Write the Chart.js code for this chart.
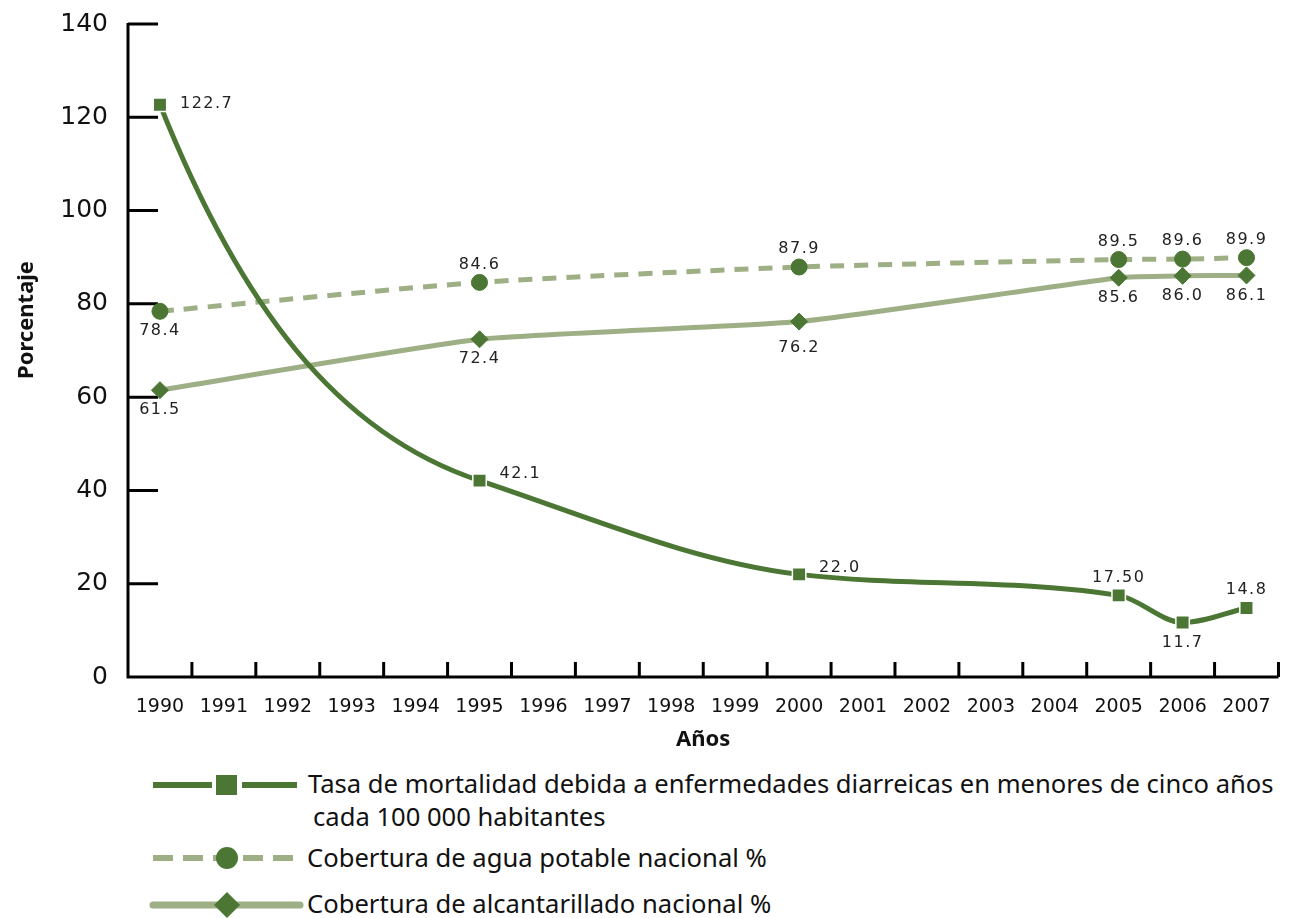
<!DOCTYPE html>
<html><head><meta charset="utf-8">
<script src="https://cdn.jsdelivr.net/npm/chart.js@4/dist/chart.umd.min.js"></script>
<style>
html,body{margin:0;padding:0;background:#fff;}
body{width:1290px;height:918px;overflow:hidden;position:relative;}
#wrap{position:absolute;left:0;top:-11px;width:1290px;height:771px;}
#legend{position:absolute;left:0;top:760px;}
</style></head>
<body>
<div id="wrap"><canvas id="c" width="1290" height="771"></canvas></div>
<svg id="legend" width="1290" height="158" xmlns="http://www.w3.org/2000/svg"></svg>
<script>
const years = ['1990','1991','1992','1993','1994','1995','1996','1997','1998','1999','2000','2001','2002','2003','2004','2005','2006','2007'];
const mortality = [122.7,null,null,null,null,42.1,null,null,null,null,22.0,null,null,null,null,17.5,11.7,14.8];
const water     = [78.4,null,null,null,null,84.6,null,null,null,null,87.9,null,null,null,null,89.5,89.6,89.9];
const sewer     = [61.5,null,null,null,null,72.4,null,null,null,null,76.2,null,null,null,null,85.6,86.0,86.1];
const yTicks = [0,20,40,60,80,100,120,140];
const seriesNames = [
  ['Tasa de mortalidad debida a enfermedades diarreicas en menores de cinco años', 'cada 100 000 habitantes'],
  ['Cobertura de agua potable nacional %'],
  ['Cobertura de alcantarillado nacional %']
];
const yTitle = 'Porcentaje';
const xTitle = 'Años';

// label placement (style only)
const mortalityDecimals = [1,1,1,1,1,1,1,1,1,1,1,1,1,1,1,2,1,1];
const mortalityPos = {0:'right',5:'rightUp',10:'rightUp',15:'above',16:'below',17:'above'};
const waterPos = {0:'below',5:'above',10:'above',15:'above',16:'above',17:'above'};
const sewerPos = {0:'below',5:'below',10:'belowFar',15:'below',16:'below',17:'below'};

const DARK = '#4b7634';
const LIGHT = '#9eaf86';

// curve shaping (style): pixel slopes of the smoothed mortality line at 1990 and 1995
const curveShape = {startSlope: 2.5, startLen: 0.25, midSlope: 0.33, midLen: 0.45};

const axisPlugin = {
  id: 'customAxes',
  beforeDatasetsDraw(chart) {
    const {ctx, chartArea: a, scales: {x, y}} = chart;
    // shape mortality curve control points
    const meta = chart.getDatasetMeta(0);
    meta.dataset.updateControlPoints(a, 'x');
    const pts = meta.data.filter(p => !p.skip);
    if (pts.length > 2) {
      const p0 = pts[0], p1 = pts[1], p2 = pts[2];
      const dx = p1.x - p0.x, dx2 = p2.x - p1.x;
      p0.cp2x = p0.x + curveShape.startLen * dx;
      p0.cp2y = p0.y + curveShape.startLen * dx * curveShape.startSlope;
      p1.cp1x = p1.x - curveShape.midLen * dx;
      p1.cp1y = p1.y - curveShape.midLen * dx * curveShape.midSlope;
      p1.cp2x = p1.x + dx2 / 3;
      p1.cp2y = p1.y + dx2 / 3 * curveShape.midSlope;
    }
    ctx.save();
    ctx.strokeStyle = '#000';
    ctx.lineWidth = 3;
    ctx.lineCap = 'butt';
    ctx.beginPath();
    ctx.moveTo(a.left, y.getPixelForValue(140) - 1);
    ctx.lineTo(a.left, a.bottom);
    ctx.lineTo(a.right, a.bottom);
    yTicks.forEach(v => {
      if (v === 0) return;
      const py = y.getPixelForValue(v);
      ctx.moveTo(a.left, py);
      ctx.lineTo(a.left + 30, py);
    });
    for (let i = 0; i < years.length; i++) {
      const px = x.getPixelForValue(i + 0.5);
      ctx.moveTo(px, a.bottom);
      ctx.lineTo(px, a.bottom - 15);
    }
    ctx.stroke();
    // axis titles
    ctx.fillStyle = '#111';
    ctx.font = 'bold 22px "Noto Sans"';
    ctx.textAlign = 'center';
    ctx.textBaseline = 'alphabetic';
    ctx.fillText(xTitle, (a.left + a.right) / 2, a.bottom + 69);
    ctx.translate(33, a.top + 296);
    ctx.rotate(-Math.PI / 2);
    ctx.fillText(yTitle, 0, 0);
    ctx.restore();
  },
  afterDatasetsDraw(chart) {
    const {ctx} = chart;
    const posSets = [mortalityPos, waterPos, sewerPos];
    ctx.save();
    ctx.fillStyle = '#222';
    ctx.font = '16px "DejaVu Sans"';
    ctx.letterSpacing = '1.5px';
    chart.data.datasets.forEach((ds, di) => {
      const meta = chart.getDatasetMeta(di);
      meta.data.forEach((pt, i) => {
        const v = ds.data[i];
        if (v === null || v === undefined) return;
        const pos = posSets[di][i];
        const txt = di === 0 ? v.toFixed(mortalityDecimals[i]) : v.toFixed(1);
        let tx = pt.x, ty = pt.y;
        ctx.textBaseline = 'middle';
        if (pos === 'right') { ctx.textAlign = 'left'; tx += 20; ty -= 1; }
        else if (pos === 'rightUp') { ctx.textAlign = 'left'; tx += 20; ty -= 7; }
        else if (pos === 'above') { ctx.textAlign = 'center'; ty -= 18; }
        else if (pos === 'below') { ctx.textAlign = 'center'; ty += 20; }
        else if (pos === 'belowFar') { ctx.textAlign = 'center'; ty += 26; }
        ctx.fillText(txt, tx, ty);
      });
    });
    ctx.restore();
  }
};

new Chart(document.getElementById('c'), {
  type: 'line',
  data: {
    labels: years,
    datasets: [
      {
        label: seriesNames[0].join(' '),
        data: mortality,
        borderColor: DARK,
        borderWidth: 5,
        cubicInterpolationMode: 'monotone',
        spanGaps: true,
        pointStyle: 'rect',
        pointRadius: 9.5,
        pointBackgroundColor: DARK,
        pointBorderColor: '#ffffff',
        pointBorderWidth: 1.5,
        order: 1
      },
      {
        label: seriesNames[1][0],
        data: water,
        borderColor: LIGHT,
        borderWidth: 5,
        borderDash: [14, 10],
        tension: 0.2,
        spanGaps: true,
        pointStyle: 'circle',
        pointRadius: 8,
        pointBackgroundColor: DARK,
        pointBorderColor: DARK,
        pointBorderWidth: 1,
        order: 2
      },
      {
        label: seriesNames[2][0],
        data: sewer,
        borderColor: LIGHT,
        borderWidth: 5,
        tension: 0.15,
        spanGaps: true,
        pointStyle: 'rectRot',
        pointRadius: 8.5,
        pointBackgroundColor: DARK,
        pointBorderColor: DARK,
        pointBorderWidth: 1,
        order: 3
      }
    ]
  },
  options: {
    responsive: false,
    animation: false,
    events: [],
    layout: {padding: {top: 12, right: 3, left: 0, bottom: 0}},
    plugins: {legend: {display: false}, tooltip: {enabled: false}},
    scales: {
      x: {
        type: 'category',
        offset: true,
        grid: {display: false, drawTicks: false, offset: true},
        border: {display: false},
        ticks: {color: '#111', font: {family: 'DejaVu Sans', size: 19}, padding: 19, maxRotation: 0, autoSkip: false},
        afterFit(s) { s.height = 83; }
      },
      y: {
        min: 0, max: 140,
        grid: {display: false, drawTicks: false},
        border: {display: false},
        ticks: {stepSize: 20, color: '#111', font: {family: 'DejaVu Sans', size: 25}, padding: 20},
        afterFit(s) { s.width = 128; }
      }
    }
  },
  plugins: [axisPlugin]
});

// Legend (SVG, real text)
const svg = document.getElementById('legend');
const NS = 'http://www.w3.org/2000/svg';
function el(tag, attrs, text) {
  const e = document.createElementNS(NS, tag);
  for (const k in attrs) e.setAttribute(k, attrs[k]);
  if (text) e.textContent = text;
  svg.appendChild(e);
  return e;
}
// item 1
el('line', {x1: 153, y1: 25, x2: 212, y2: 25, stroke: DARK, 'stroke-width': 6});
el('line', {x1: 242, y1: 25, x2: 297, y2: 25, stroke: DARK, 'stroke-width': 6});
el('rect', {x: 216, y: 15, width: 21, height: 20, fill: DARK});
// item 2
el('line', {x1: 153, y1: 98, x2: 297, y2: 98, stroke: LIGHT, 'stroke-width': 6, 'stroke-dasharray': '20 10'});
el('circle', {cx: 227, cy: 98, r: 11, fill: DARK});
// item 3
el('line', {x1: 153, y1: 145, x2: 300, y2: 145, stroke: LIGHT, 'stroke-width': 7, 'stroke-linecap': 'round'});
el('polygon', {points: '227,132 240,145 227,158 214,145', fill: DARK});
const tStyle = {fill: '#111', 'font-family': 'Noto Sans', 'font-size': 25.6};
el('text', Object.assign({x: 308, y: 33}, tStyle), seriesNames[0][0]);
el('text', Object.assign({x: 313, y: 66}, tStyle), seriesNames[0][1]);
el('text', Object.assign({x: 307, y: 107}, tStyle), seriesNames[1][0]);
el('text', Object.assign({x: 307, y: 153}, tStyle), seriesNames[2][0]);
</script>
</body></html>
